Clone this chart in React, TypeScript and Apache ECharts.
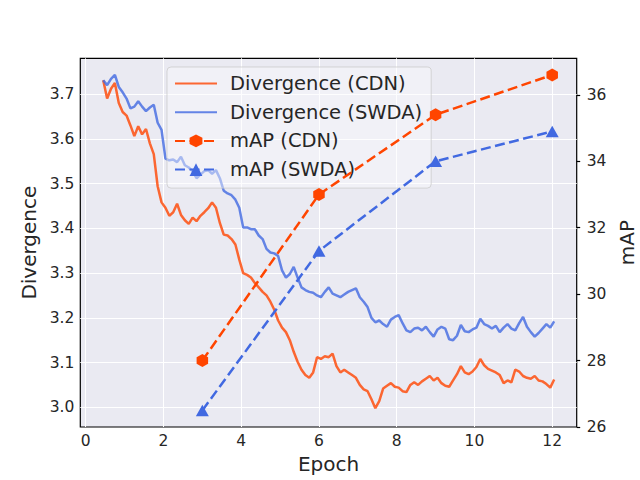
import React, { useEffect, useRef } from "react";
import * as echarts from "echarts";

// Divergence curves sampled every 0.1 epoch starting at 0.45
const DIV_START = 0.45;
const DIV_STEP = 0.1;
const divCDN = [
  3.731, 3.690, 3.712, 3.725, 3.680, 3.660, 3.652, 3.630, 3.606, 3.628,
  3.610, 3.622, 3.590, 3.566, 3.494, 3.458, 3.446, 3.428, 3.436, 3.455,
  3.430, 3.418, 3.410, 3.424, 3.416, 3.428, 3.436, 3.445, 3.458, 3.446,
  3.412, 3.386, 3.384, 3.376, 3.364, 3.330, 3.300, 3.296, 3.290, 3.278,
  3.268, 3.258, 3.250, 3.236, 3.218, 3.194, 3.178, 3.168, 3.150, 3.124,
  3.102, 3.084, 3.072, 3.066, 3.078, 3.112, 3.108, 3.114, 3.112, 3.120,
  3.092, 3.078, 3.084, 3.078, 3.072, 3.066, 3.050, 3.040, 3.036, 3.018,
  2.998, 3.014, 3.042, 3.048, 3.054, 3.046, 3.044, 3.036, 3.034, 3.050,
  3.056, 3.050, 3.058, 3.064, 3.070, 3.060, 3.066, 3.054, 3.048, 3.046,
  3.060, 3.074, 3.092, 3.078, 3.074, 3.080, 3.090, 3.108, 3.094, 3.086,
  3.082, 3.078, 3.072, 3.054, 3.060, 3.056, 3.084, 3.080, 3.070, 3.066,
  3.064, 3.070, 3.060, 3.058, 3.052, 3.044, 3.062,
];
const divSWDA = [
  3.731, 3.720, 3.734, 3.743, 3.716, 3.704, 3.690, 3.668, 3.672, 3.684,
  3.672, 3.662, 3.670, 3.676, 3.636, 3.620, 3.556, 3.552, 3.554, 3.548,
  3.560, 3.541, 3.536, 3.528, 3.512, 3.520, 3.528, 3.530, 3.522, 3.530,
  3.512, 3.484, 3.478, 3.474, 3.464, 3.446, 3.402, 3.402, 3.398, 3.398,
  3.384, 3.376, 3.354, 3.346, 3.344, 3.338, 3.306, 3.290, 3.298, 3.314,
  3.290, 3.268, 3.262, 3.258, 3.256, 3.250, 3.246, 3.258, 3.268, 3.254,
  3.250, 3.246, 3.252, 3.258, 3.262, 3.266, 3.246, 3.236, 3.224, 3.200,
  3.190, 3.194, 3.186, 3.180, 3.196, 3.202, 3.206, 3.188, 3.172, 3.168,
  3.176, 3.178, 3.172, 3.180, 3.168, 3.158, 3.174, 3.180, 3.176, 3.152,
  3.150, 3.160, 3.184, 3.170, 3.168, 3.174, 3.178, 3.198, 3.186, 3.182,
  3.176, 3.182, 3.168, 3.178, 3.186, 3.176, 3.172, 3.188, 3.202, 3.180,
  3.168, 3.158, 3.166, 3.176, 3.186, 3.178, 3.192,
];

// mAP evaluations
const mapEpochs = [3, 6, 9, 12];
const mapCDN = [28.0, 33.0, 35.4, 36.6];
const mapSWDA = [26.5, 31.3, 34.0, 34.9];

// ticks
const xTicks = [0, 2, 4, 6, 8, 10, 12];
const yLeftTicks = [3.0, 3.1, 3.2, 3.3, 3.4, 3.5, 3.6, 3.7];
const yRightTicks = [26, 28, 30, 32, 34, 36];

const ORANGE = "#FF4500";
const BLUE = "#4169E1";
const TEXT = "#262626";
const FONT = "DejaVu Sans";
const HEX = "path://M0,-1L0.866,-0.5L0.866,0.5L0,1L-0.866,0.5L-0.866,-0.5Z";

function divPairs(vals: number[]) {
  return vals.map((v, i) => [+(DIV_START + DIV_STEP * i).toFixed(2), v]);
}

export default function App() {
  const ref = useRef<HTMLDivElement>(null);
  useEffect(() => {
    if (!ref.current) return;
    const chart = echarts.init(ref.current, null, { renderer: "svg" });
    chart.setOption({
      animation: false,
      backgroundColor: "#ffffff",
      textStyle: { fontFamily: FONT },
      grid: {
        left: 80.3,
        right: 63.3,
        top: 58.3,
        bottom: 53,
        containLabel: false,
        outerBoundsMode: "none",
        show: true,
        backgroundColor: "#EAEAF2",
        borderColor: "#000000",
        borderWidth: 1.2,
      },
      legend: {
        orient: "vertical",
        left: 167,
        top: 67,
        padding: [6.5, 9, 8.5, 7],
        itemGap: 8.7,
        itemWidth: 42,
        itemHeight: 16,
        backgroundColor: "rgba(250,250,253,0.45)",
        borderColor: "rgba(204,204,204,0.8)",
        borderWidth: 1,
        borderRadius: 4,
        textStyle: {
          fontFamily: FONT,
          fontSize: 19.5,
          color: TEXT,
          lineHeight: 20,
          padding: [0, 0, 0, 8],
        },
        data: [
          { name: "Divergence (CDN)", itemStyle: { opacity: 0 } },
          { name: "Divergence (SWDA)", itemStyle: { opacity: 0 } },
          "mAP (CDN)",
          "mAP (SWDA)",
        ],
      },
      xAxis: {
        type: "value",
        min: -0.14,
        max: 12.63,
        name: "Epoch",
        nameLocation: "middle",
        nameGap: 25,
        nameTextStyle: { fontFamily: FONT, fontSize: 20, color: TEXT },
        axisLine: { show: false },
        axisTick: { show: false, customValues: xTicks },
        axisLabel: {
          customValues: xTicks,
          fontFamily: FONT,
          fontSize: 15.5,
          color: TEXT,
          margin: 6,
        },
        splitLine: { show: true, lineStyle: { color: "#ffffff", width: 1 } },
      },
      yAxis: [
        {
          type: "value",
          position: "left",
          min: 2.956,
          max: 3.78,
          name: "Divergence",
          nameLocation: "middle",
          nameGap: 41,
          nameTextStyle: { fontFamily: FONT, fontSize: 20, color: TEXT },
          axisLine: { show: false },
          axisTick: { show: false, customValues: yLeftTicks },
          axisLabel: {
            customValues: yLeftTicks,
            formatter: (v: number) => v.toFixed(1),
            fontFamily: FONT,
            fontSize: 15.5,
            color: TEXT,
            margin: 6,
          },
          splitLine: { show: true, lineStyle: { color: "#ffffff", width: 1 } },
        },
        {
          type: "value",
          position: "right",
          min: 26,
          max: 37.1,
          name: "mAP",
          nameLocation: "middle",
          nameGap: 39,
          nameTextStyle: { fontFamily: FONT, fontSize: 20, color: TEXT },
          axisLine: { show: false },
          axisTick: {
            show: true,
            customValues: yRightTicks,
            length: 3.5,
            lineStyle: { color: "#000000", width: 1.2 },
          },
          axisLabel: {
            customValues: yRightTicks,
            fontFamily: FONT,
            fontSize: 15.5,
            color: TEXT,
            margin: 10,
          },
          splitLine: { show: false },
        },
      ],
      series: [
        {
          name: "Divergence (CDN)",
          type: "line",
          yAxisIndex: 0,
          data: divPairs(divCDN),
          symbol: "none",
          z: 2,
          lineStyle: { color: ORANGE, width: 2.5, opacity: 0.8 },
          itemStyle: { color: ORANGE, opacity: 0.8 },
        },
        {
          name: "Divergence (SWDA)",
          type: "line",
          yAxisIndex: 0,
          data: divPairs(divSWDA),
          symbol: "none",
          z: 2,
          lineStyle: { color: BLUE, width: 2.5, opacity: 0.8 },
          itemStyle: { color: BLUE, opacity: 0.8 },
        },
        {
          name: "mAP (CDN)",
          type: "line",
          yAxisIndex: 1,
          data: mapEpochs.map((e, i) => [e, mapCDN[i]]),
          symbol: HEX,
          symbolSize: [11.5, 13],
          z: 5,
          lineStyle: { color: ORANGE, width: 2.5, type: [10, 4.5] },
          itemStyle: { color: ORANGE },
        },
        {
          name: "mAP (SWDA)",
          type: "line",
          yAxisIndex: 1,
          data: mapEpochs.map((e, i) => [e, mapSWDA[i]]),
          symbol: "triangle",
          symbolSize: [13, 11.5],
          z: 5,
          lineStyle: { color: BLUE, width: 2.5, type: [10, 4.5] },
          itemStyle: { color: BLUE },
        },
      ],
    });
    return () => chart.dispose();
  }, []);
  return (
    <div
      ref={ref}
      style={{ position: "fixed", left: 0, top: 0, width: 640, height: 480 }}
    />
  );
}
